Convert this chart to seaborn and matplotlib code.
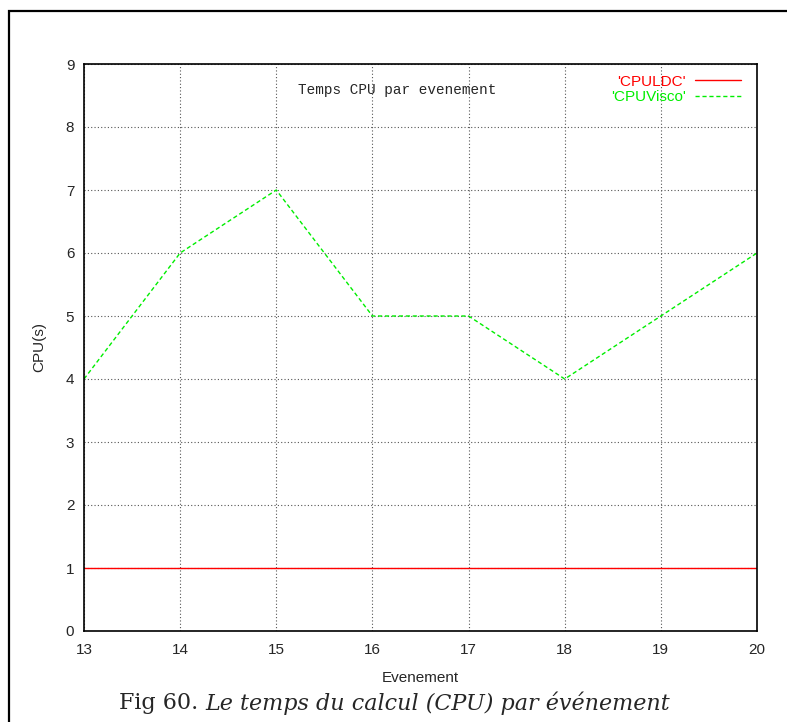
import matplotlib
matplotlib.use("Agg")
import matplotlib.pyplot as plt
import seaborn as sns
import pandas as pd
from matplotlib.patches import Rectangle

events = [13, 14, 15, 16, 17, 18, 19, 20]
cpu_ldc = [1, 1, 1, 1, 1, 1, 1, 1]
cpu_visco = [4, 6, 7, 5, 5, 4, 5, 6]
x_ticks = [13, 14, 15, 16, 17, 18, 19, 20]
y_ticks = [0, 1, 2, 3, 4, 5, 6, 7, 8, 9]

sns.set_theme(style="white")
plt.rcParams['font.family'] = ['Liberation Sans', 'DejaVu Sans']

fig = plt.figure(figsize=(7.87, 7.22), dpi=100)
ax = fig.add_axes([84/787, 1-631/722, (757-84)/787, (631-64)/722])

df = pd.DataFrame({"Evenement": events, "CPULDC": cpu_ldc, "CPUVisco": cpu_visco})
sns.lineplot(data=df, x="Evenement", y="CPULDC", ax=ax, color="#ff0000",
             linewidth=1.0, label="'CPULDC'")
sns.lineplot(data=df, x="Evenement", y="CPUVisco", ax=ax, color="#00ee00",
             linewidth=1.0, linestyle=(0, (3, 2)), label="'CPUVisco'")

ax.set_xlim(13, 20)
ax.set_ylim(0, 9)
ax.set_xticks(x_ticks)
ax.set_yticks(y_ticks)
ax.tick_params(axis='x', labelsize=11, length=0, pad=9)
ax.tick_params(axis='y', labelsize=11, length=0, pad=7)
ax.grid(True, color="#555555", linestyle=(0, (1, 2)), linewidth=0.8)
for s in ax.spines.values():
    s.set_color("black")
    s.set_linewidth(1.2)

ax.set_xlabel("Evenement", fontsize=11, labelpad=10)
ax.set_ylabel("CPU(s)", fontsize=11, labelpad=14)

ax.text(0.466, 0.955, "Temps CPU par evenement", transform=ax.transAxes,
        ha="center", va="center", fontsize=10.4, family="Liberation Mono")

leg = ax.legend(loc="upper right", frameon=False, markerfirst=False,
                fontsize=11, handlelength=3.0, handletextpad=0.6,
                labelspacing=0.1, borderaxespad=0.3,
                bbox_to_anchor=(0.992, 1.0),
                labelcolor=["#ff0000", "#00ee00"])

t1 = fig.text(119/787, 1-703/722, "Fig 60. ", ha="left", va="center",
              fontsize=16, family="DejaVu Serif")
fig.canvas.draw()
bb = t1.get_window_extent()
fig.text(bb.x1/787, 1-703/722, "Le temps du calcul (CPU) par événement",
         ha="left", va="center", fontsize=16, family="DejaVu Serif",
         style="italic")

fig.patches.append(Rectangle((9/787, -0.1), 1.2, 1.1 - 10.5/722,
                             transform=fig.transFigure, fill=False,
                             edgecolor="black", linewidth=1.6))

fig.savefig("out.png", dpi=100)
